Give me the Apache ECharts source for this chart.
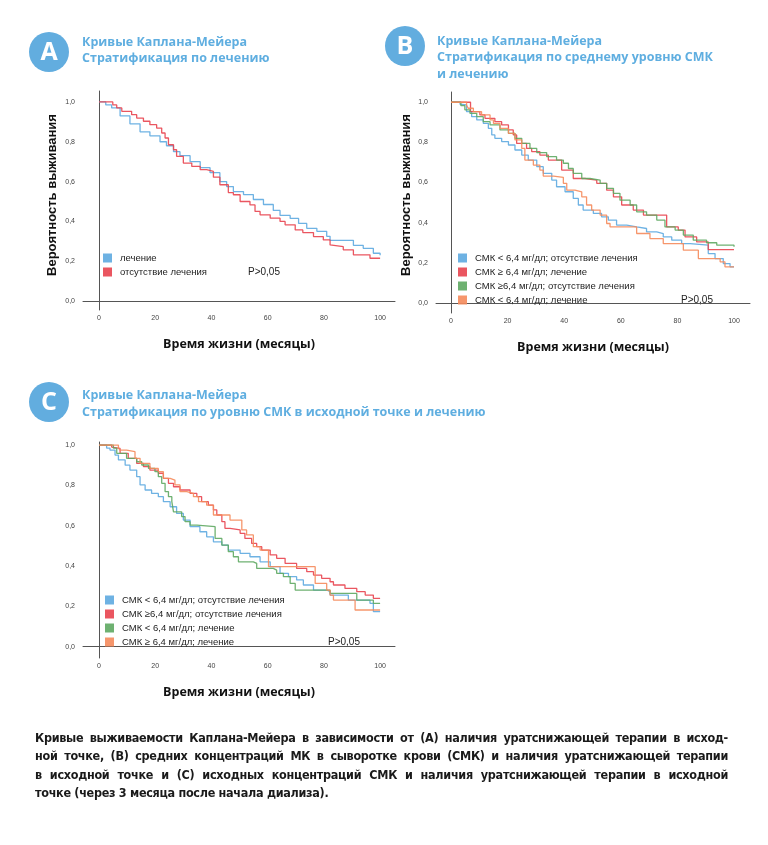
<!DOCTYPE html>
<html>
<head>
<meta charset="utf-8">
<script src="https://cdn.jsdelivr.net/npm/echarts@6/dist/echarts.min.js"></script>
<style>
html,body{margin:0;padding:0;background:#fff;}
#chart{position:absolute;left:0;top:0;width:768px;height:845px;}
#caption{position:absolute;left:35px;top:729px;width:693px;font-family:"DejaVu Sans Condensed","Liberation Sans Narrow","Liberation Sans",sans-serif;font-stretch:condensed;font-weight:bold;font-size:12.5px;letter-spacing:-0.3px;line-height:18.3px;color:#1a1a1a;}
#caption div{text-align:justify;text-align-last:justify;white-space:nowrap;}
#caption div.last{text-align:left;text-align-last:left;}
</style>
</head>
<body>
<div id="chart"></div>
<div id="caption">
<div>Кривые выживаемости Каплана-Мейера в зависимости от (A) наличия уратснижающей терапии в исход-</div>
<div>ной точке, (B) средних концентраций МК в сыворотке крови (СМК) и наличия уратснижающей терапии</div>
<div>в исходной точке и (C) исходных концентраций СМК и наличия уратснижающей терапии в исходной</div>
<div class="last">точке (через 3 месяца после начала диализа).</div>
</div>
<script>
// ---------- tick labels ----------
const xTicks = [0, 20, 40, 60, 80, 100];
const yTicks = [0, 0.2, 0.4, 0.6, 0.8, 1.0];

// ---------- Panel A ----------
const aTreatT = [0, 2.4, 4.5, 7.5, 11, 14.6, 18.1, 21.7, 24, 26.5, 28.8, 32.4, 36, 39.5, 43, 45.4, 47.8, 51.4, 54.9, 58.5, 62, 64.4, 68, 71, 73.9, 77.5, 81, 82.2, 86.9, 90.5, 94, 97.6, 100];
const aTreatS = [1, 0.985, 0.97, 0.93, 0.89, 0.85, 0.83, 0.80, 0.78, 0.75, 0.73, 0.70, 0.67, 0.645, 0.60, 0.575, 0.55, 0.535, 0.51, 0.485, 0.455, 0.43, 0.415, 0.39, 0.365, 0.35, 0.325, 0.305, 0.305, 0.28, 0.265, 0.24, 0.23];
const aNoTreatT = [0, 4.9, 6.3, 8.1, 11.6, 13.4, 15.8, 18.1, 20.5, 22.3, 23.5, 24.7, 26.5, 27.6, 30, 33, 36, 38.3, 40.7, 43, 46, 47.8, 50.2, 53.7, 55.5, 57.3, 60.9, 64.4, 66.2, 69.8, 72.5, 76.3, 79.8, 82.2, 82.8, 86.9, 90.5, 96.4, 100];
const aNoTreatS = [1, 0.985, 0.97, 0.953, 0.936, 0.919, 0.903, 0.886, 0.869, 0.844, 0.819, 0.785, 0.76, 0.727, 0.693, 0.676, 0.66, 0.651, 0.622, 0.584, 0.545, 0.534, 0.50, 0.483, 0.45, 0.433, 0.416, 0.40, 0.383, 0.357, 0.344, 0.324, 0.307, 0.282, 0.273, 0.257, 0.232, 0.215, 0.215];

// ---------- Panel B ----------
const bLowNoT = [0, 3.2, 3.8, 5.5, 7.3, 9.1, 11.4, 13.2, 14.4, 15.5, 17.9, 20.3, 22.6, 25, 27.3, 30.3, 32.6, 35.6, 37.3, 40.3, 43.2, 45, 46.7, 50.3, 53.2, 55.6, 58.5, 62.1, 65.6, 69.1, 72.7, 75, 78, 81.5, 84.5, 90.9, 93.3, 96.2, 98.6, 100];
const bLowNoS = [1, 0.99, 0.987, 0.953, 0.928, 0.912, 0.895, 0.87, 0.837, 0.82, 0.804, 0.787, 0.762, 0.737, 0.712, 0.679, 0.646, 0.612, 0.579, 0.554, 0.521, 0.488, 0.463, 0.446, 0.429, 0.413, 0.388, 0.379, 0.371, 0.354, 0.346, 0.329, 0.313, 0.296, 0.288, 0.246, 0.221, 0.196, 0.18, 0.18];
const bHighTrT = [0, 6.9, 10.2, 12, 15.5, 17.9, 20.3, 22, 23.2, 26.7, 28.5, 31.4, 34.4, 39.1, 43.2, 47.3, 51.5, 55, 57.4, 60.3, 64.4, 68, 76.2, 80.3, 82.7, 86.8, 90.9, 100];
const bHighTrS = [1, 0.953, 0.937, 0.92, 0.903, 0.887, 0.862, 0.837, 0.795, 0.77, 0.754, 0.737, 0.712, 0.662, 0.62, 0.612, 0.596, 0.562, 0.529, 0.488, 0.463, 0.438, 0.379, 0.363, 0.329, 0.304, 0.266, 0.266];
const bHighNoT = [0, 3.5, 4.9, 6.7, 9.1, 11.4, 13.8, 17.3, 20.3, 22.6, 25, 27.9, 30.3, 33.8, 37.3, 39.7, 41.5, 43.2, 46.2, 49.1, 52.7, 55, 57.4, 59.7, 63.3, 65.6, 69.1, 72.7, 75.6, 79.2, 82.1, 85.6, 90.3, 93.9, 100];
const bHighNoS = [1, 0.983, 0.962, 0.945, 0.928, 0.903, 0.887, 0.862, 0.845, 0.82, 0.795, 0.77, 0.749, 0.729, 0.712, 0.696, 0.67, 0.646, 0.62, 0.612, 0.596, 0.571, 0.546, 0.512, 0.488, 0.454, 0.438, 0.413, 0.379, 0.363, 0.338, 0.313, 0.30, 0.288, 0.28];
const bLowTrT = [0, 5.5, 6.1, 7.9, 10.8, 13.8, 15, 17.3, 20.3, 22.6, 25, 26.1, 29.1, 31.4, 32.6, 36.2, 39.7, 40.9, 43.8, 46.2, 47.9, 49.7, 52.7, 55, 56.2, 65.6, 70.3, 75, 82.1, 87.4, 95.1, 96.8, 100];
const bLowTrS = [1, 0.985, 0.97, 0.953, 0.937, 0.912, 0.895, 0.87, 0.845, 0.812, 0.77, 0.712, 0.687, 0.662, 0.632, 0.626, 0.596, 0.562, 0.554, 0.529, 0.488, 0.463, 0.438, 0.396, 0.379, 0.346, 0.321, 0.296, 0.263, 0.221, 0.205, 0.18, 0.18];

// ---------- Panel C ----------
const cLowNoT = [0, 2.7, 3.9, 5.7, 6.9, 9.3, 11, 13.4, 14.6, 16.4, 18.7, 21.1, 22.9, 25.3, 27.6, 30, 32.4, 35.9, 38.3, 40.7, 43.7, 46, 50.2, 53.7, 57.3, 60.9, 64.4, 67.4, 70.3, 72.7, 76.3, 81, 82.2, 88.7, 96.4, 97.6, 100];
const cLowNoS = [1, 0.985, 0.975, 0.95, 0.926, 0.90, 0.876, 0.843, 0.802, 0.777, 0.76, 0.744, 0.719, 0.694, 0.661, 0.628, 0.595, 0.57, 0.545, 0.52, 0.504, 0.479, 0.463, 0.446, 0.421, 0.397, 0.364, 0.347, 0.331, 0.306, 0.281, 0.273, 0.256, 0.231, 0.215, 0.174, 0.174];
const cHighNoT = [0, 4.5, 5.1, 7.5, 10.4, 13.4, 15.8, 18.1, 21.1, 22.9, 24.7, 26.5, 28.8, 32.4, 34.8, 36.5, 38.9, 40.7, 41.9, 43.7, 44.8, 46.6, 50.2, 51.9, 54.3, 56.1, 57.9, 60.9, 63.2, 66.2, 70.3, 73.9, 76.3, 79.2, 82.2, 83.4, 87.5, 91.7, 94.7, 97.6, 100];
const cHighNoS = [1, 0.99, 0.983, 0.959, 0.934, 0.909, 0.893, 0.876, 0.86, 0.835, 0.81, 0.793, 0.777, 0.76, 0.744, 0.719, 0.702, 0.678, 0.653, 0.62, 0.587, 0.579, 0.562, 0.537, 0.512, 0.496, 0.479, 0.455, 0.438, 0.413, 0.388, 0.372, 0.355, 0.339, 0.322, 0.306, 0.289, 0.273, 0.256, 0.24, 0.24];
const cLowTrT = [0, 5.1, 6.3, 9.8, 13.4, 15.2, 17.6, 19.9, 21.1, 22.3, 23.5, 24.7, 25.9, 26.5, 29.4, 30.6, 32.4, 34.8, 41.3, 43.7, 46, 47.8, 49.6, 54.9, 56.1, 62, 63.2, 65.6, 68, 69.8, 82.2, 91.7, 97.6, 100];
const cLowTrS = [1, 0.985, 0.959, 0.934, 0.917, 0.901, 0.884, 0.868, 0.843, 0.81, 0.769, 0.744, 0.719, 0.669, 0.645, 0.62, 0.603, 0.595, 0.537, 0.504, 0.471, 0.446, 0.421, 0.413, 0.388, 0.38, 0.364, 0.347, 0.314, 0.281, 0.264, 0.231, 0.215, 0.215];
const cHighTrT = [0, 6.9, 7.5, 9.8, 12.8, 14.6, 18.1, 21.1, 22.9, 25.3, 27, 28.8, 31.2, 33.6, 35.4, 38.3, 40.7, 46.6, 50.8, 52.5, 54.9, 57.3, 60.3, 76.9, 81, 82.2, 83.4, 91.1, 100];
const cHighTrS = [1, 0.985, 0.975, 0.967, 0.934, 0.909, 0.884, 0.868, 0.835, 0.826, 0.802, 0.769, 0.76, 0.744, 0.719, 0.702, 0.653, 0.628, 0.579, 0.554, 0.496, 0.479, 0.397, 0.314, 0.281, 0.256, 0.231, 0.182, 0.182];

// ---------- names / colours ----------
const BLUE = '#5eaae0', RED = '#e8444f', GREEN = '#5ea862', ORANGE = '#f58b5c';
const aNames = ['лечение', 'отсутствие лечения'];
const bNames = ['СМК < 6,4 мг/дл; отсутствие лечения', 'СМК ≥ 6,4 мг/дл; лечение', 'СМК ≥6,4 мг/дл; отсутствие лечения', 'СМК < 6,4 мг/дл; лечение'];
const cNames = ['СМК < 6,4 мг/дл; отсутствие лечения', 'СМК ≥6,4 мг/дл; отсутствие лечения', 'СМК < 6,4 мг/дл; лечение', 'СМК ≥ 6,4 мг/дл; лечение'];
const headerTitles = {
  A: ['Кривые Каплана-Мейера', 'Стратификация по лечению'],
  B: ['Кривые Каплана-Мейера', 'Стратификация по среднему уровню СМК', 'и лечению'],
  C: ['Кривые Каплана-Мейера', 'Стратификация по уровню СМК в исходной точке и лечению']
};
const yTitle = 'Вероятность выживания';
const xTitle = 'Время жизни (месяцы)';
const pText = 'P>0,05';

function zip(t, s) { return t.map((v, i) => [v, s[i]]); }

const chart = echarts.init(document.getElementById('chart'), null, { renderer: 'canvas' });

const grids = [
  { left: 83, top: 91, width: 312, height: 219 },
  { left: 436, top: 92, width: 314, height: 221 },
  { left: 83, top: 442, width: 312, height: 216 }
];
const xRanges = [[-5.7, 105.3], [-5.3, 105.65], [-5.7, 105.3]];
const yRanges = [[-0.045, 1.055], [-0.05, 1.051], [-0.056, 1.015]];

const axisLine = { show: true, lineStyle: { color: '#555', width: 1 } };
const tickFont = { fontFamily: 'Liberation Sans', fontSize: 7, color: '#444' };

const xAxes = grids.map((g, i) => ({
  type: 'value', gridIndex: i, min: xRanges[i][0], max: xRanges[i][1],
  axisLine: axisLine, axisTick: { show: false }, splitLine: { show: false },
  axisLabel: Object.assign({ customValues: xTicks, margin: 5, formatter: v => String(Math.round(v)) }, tickFont),
  name: xTitle, nameLocation: 'middle', nameGap: 28,
  nameTextStyle: { fontFamily: 'Open Sans', fontWeight: 'bold', fontSize: 12.5, color: '#111' }
}));
const yAxes = grids.map((g, i) => ({
  type: 'value', gridIndex: i, min: yRanges[i][0], max: yRanges[i][1],
  axisLine: axisLine, axisTick: { show: false }, splitLine: { show: false },
  axisLabel: Object.assign({ customValues: yTicks, margin: 8, formatter: v => v.toFixed(1).replace('.', ',') }, tickFont)
}));

function km(name, t, s, color, idx) {
  return {
    type: 'line', name: name, step: 'end', xAxisIndex: idx, yAxisIndex: idx,
    data: zip(t, s), showSymbol: false, symbol: 'none', silent: true,
    color: color, lineStyle: { color: color, width: 1.3, opacity: 0.9 }
  };
}

const series = [
  km(aNames[0], aTreatT, aTreatS, BLUE, 0),
  km(aNames[1], aNoTreatT, aNoTreatS, RED, 0),
  km(bNames[0], bLowNoT, bLowNoS, BLUE, 1),
  km(bNames[1], bHighTrT, bHighTrS, RED, 1),
  km(bNames[2], bHighNoT, bHighNoS, GREEN, 1),
  km(bNames[3], bLowTrT, bLowTrS, ORANGE, 1),
  km(cNames[0], cLowNoT, cLowNoS, BLUE, 2),
  km(cNames[1], cHighNoT, cHighNoS, RED, 2),
  km(cNames[2], cLowTrT, cLowTrS, GREEN, 2),
  km(cNames[3], cHighTrT, cHighTrS, ORANGE, 2)
];

function legend(names, colors, left, top) {
  return {
    orient: 'vertical', left: left, top: top, padding: 0, itemGap: 4,
    itemWidth: 9, itemHeight: 9, icon: 'rect', selectedMode: false,
    textStyle: { fontFamily: 'Liberation Sans', fontSize: 9.5, color: '#222', lineHeight: 10, padding: [0, 0, 0, 3] },
    data: names.map((n, i) => ({ name: n, icon: 'rect', itemStyle: { color: colors[i], opacity: 0.9 } }))
  };
}

function header(letter, cx, cy, lines, tx, ty, lh) {
  const els = [
    { type: 'circle', shape: { cx: cx, cy: cy, r: 20 }, style: { fill: '#62addf' } },
    { type: 'text', x: cx, y: cy + 1, style: { text: letter, fill: '#fff', fontFamily: 'Open Sans', fontWeight: 'bold', fontSize: 25, align: 'center', verticalAlign: 'middle' } }
  ];
  lines.forEach((l, i) => els.push({
    type: 'text', x: tx, y: ty + i * lh,
    style: { text: l, fill: '#5faee0', fontFamily: 'Open Sans', fontWeight: 'bold', fontSize: 12.5, verticalAlign: 'middle' }
  }));
  return els;
}

function ptext(x, y) {
  return { type: 'text', x: x, y: y, style: { text: pText, fill: '#222', fontFamily: 'Liberation Sans', fontSize: 10, verticalAlign: 'middle' } };
}

function ytitle(x, y) {
  return { type: 'text', x: x, y: y, rotation: Math.PI / 2,
    style: { text: yTitle, fill: '#111', fontFamily: 'Liberation Sans', fontWeight: 'bold', fontSize: 13, align: 'center', verticalAlign: 'middle' } };
}

const graphics = [].concat(
  header('A', 49, 52, headerTitles.A, 82, 42, 16),
  header('B', 405, 46, headerTitles.B, 437, 41, 16.5),
  header('C', 49, 402, headerTitles.C, 82, 395, 17),
  [ptext(248, 272), ptext(681, 300), ptext(328, 642), ytitle(52, 195), ytitle(406, 195)]
);

chart.setOption({
  animation: false,
  backgroundColor: '#fff',
  grid: grids,
  xAxis: xAxes,
  yAxis: yAxes,
  legend: [
    legend(aNames, [BLUE, RED], 103, 253),
    legend(bNames, [BLUE, RED, GREEN, ORANGE], 458, 253),
    legend(cNames, [BLUE, RED, GREEN, ORANGE], 105, 595)
  ],
  series: series,
  graphic: graphics
});
</script>
</body>
</html>
